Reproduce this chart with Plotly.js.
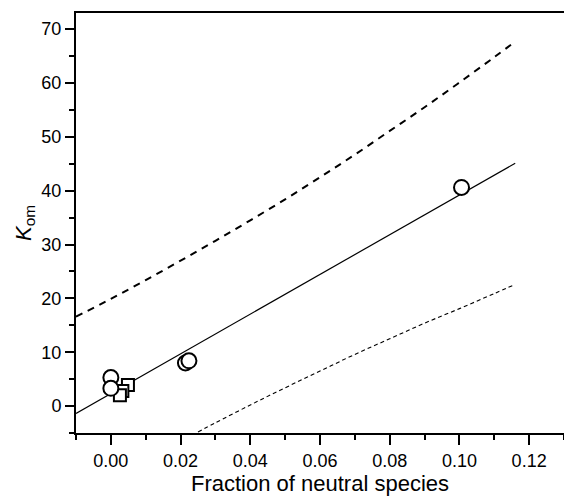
<!DOCTYPE html>
<html>
<head>
<meta charset="utf-8">
<script src="https://cdn.plot.ly/plotly-3.0.1.min.js"></script>
<style>html,body{margin:0;padding:0;background:#fff;}#chart{width:564px;height:497px;}</style>
</head>
<body>
<div id="chart"></div>
<script>
// Data
const circleX = [0.0, 0.0, 0.0214, 0.0224, 0.1006];
const circleY = [5.3, 3.3, 8.0, 8.4, 40.6];
const squareX = [0.0049, 0.0033, 0.0026];
const squareY = [3.9, 2.8, 2.0];

const fitX = [-0.01, 0.116];
const fitY = [-1.36, 45.1];

const upperX = [-0.01, 0.0, 0.01, 0.02, 0.03, 0.04, 0.05, 0.06, 0.07, 0.08, 0.09, 0.10, 0.11, 0.116];
const upperY = [16.6, 19.9, 23.4, 27.0, 30.7, 34.5, 38.4, 42.5, 46.7, 51.1, 55.5, 60.1, 64.8, 67.7];

const lowerX = [0.025, 0.03, 0.04, 0.05, 0.06, 0.07, 0.08, 0.09, 0.10, 0.11, 0.116];
const lowerY = [-4.8, -3.1, 0.2, 3.4, 6.5, 9.6, 12.5, 15.4, 18.1, 20.9, 22.6];

const xTickVals = [0, 0.02, 0.04, 0.06, 0.08, 0.10, 0.12];
const xTickText = ["0.00", "0.02", "0.04", "0.06", "0.08", "0.10", "0.12"];
const yTickVals = [0, 10, 20, 30, 40, 50, 60, 70];

const xTitle = "Fraction of neutral species";
const yTitle = "<i>K</i><sub>om</sub>";

const traces = [
  {x: fitX, y: fitY, mode: "lines", line: {color: "#000", width: 1.2}, hoverinfo: "skip"},
  {x: upperX, y: upperY, mode: "lines", line: {color: "#000", width: 2, dash: "7px,6px", shape: "spline"}, hoverinfo: "skip"},
  {x: lowerX, y: lowerY, mode: "lines", line: {color: "#000", width: 1.1, dash: "4px,3px", shape: "spline"}, hoverinfo: "skip"},
  {x: squareX, y: squareY, mode: "markers", marker: {symbol: "square", size: 12, color: "#fff", line: {color: "#000", width: 2}}},
  {x: circleX, y: circleY, mode: "markers", marker: {symbol: "circle", size: 15, color: "#fff", line: {color: "#000", width: 2}}}
];

const fam = "Liberation Sans, Arial, sans-serif";

const layout = {
  width: 564, height: 497,
  margin: {l: 76, r: 0, t: 13, b: 64, pad: 0},
  paper_bgcolor: "#fff", plot_bgcolor: "#fff",
  showlegend: false,
  font: {family: fam, color: "#000"},
  xaxis: {
    range: [-0.01, 0.13],
    tickmode: "array",
    tickvals: xTickVals,
    ticktext: xTickText,
    ticks: "outside", ticklen: 10, tickwidth: 2, tickcolor: "#000",
    minor: {dtick: 0.01, tick0: 0, ticks: "outside", ticklen: 5, tickwidth: 2, tickcolor: "#000"},
    showline: true, linewidth: 2, linecolor: "#000", mirror: true,
    showgrid: false, zeroline: false,
    tickfont: {family: fam, size: 18, color: "#000"},
    title: {text: xTitle, font: {family: fam, size: 22, color: "#000"}, standoff: 2}
  },
  yaxis: {
    range: [-5, 73],
    tickmode: "array",
    tickvals: yTickVals,
    ticks: "outside", ticklen: 9, tickwidth: 2, tickcolor: "#000",
    minor: {dtick: 5, tick0: 0, ticks: "outside", ticklen: 5, tickwidth: 2, tickcolor: "#000"},
    showline: true, linewidth: 2, linecolor: "#000", mirror: false,
    showgrid: false, zeroline: false,
    tickfont: {family: fam, size: 18, color: "#000"},
    title: {text: yTitle, font: {family: fam, size: 22, color: "#000"}, standoff: 4}
  }
};

Plotly.newPlot("chart", traces, layout, {displayModeBar: false, staticPlot: true});
</script>
</body>
</html>
